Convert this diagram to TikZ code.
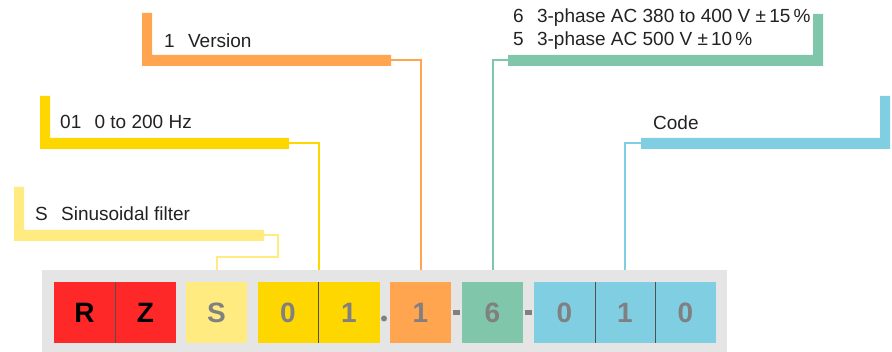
\documentclass[tikz,border=0pt]{standalone}
\usepackage{fontspec}
\setmainfont{Liberation Sans}
\usetikzlibrary{calc}
\definecolor{cred}{HTML}{FF2828}
\definecolor{clyel}{HTML}{FFEB80}
\definecolor{cyel}{HTML}{FFD700}
\definecolor{corg}{HTML}{FFA54F}
\definecolor{cgrn}{HTML}{80C6AA}
\definecolor{cblu}{HTML}{80CEE2}
\definecolor{cpanel}{HTML}{E5E5E5}
\definecolor{cletter}{HTML}{808080}
\definecolor{ctext}{HTML}{222222}
\definecolor{cdiv}{HTML}{505050}
\tikzset{
  cell/.style={minimum width=61pt, minimum height=61pt, inner sep=0pt, font=\fontsize{28}{28}\selectfont\bfseries, text=cletter},
  label/.style={anchor=base west, inner sep=0pt, font=\fontsize{19}{23}\selectfont, text=ctext, align=left},
  divider/.style={draw=cdiv, line width=0.8pt},
  conn/.style={line width=2pt},
  sep/.style={fill=cletter, draw=none}
}
\begin{document}
\begin{tikzpicture}[x=1pt,y=-1pt]
\useasboundingbox (0,0) rectangle (892,352);
% panel
\node[fill=cpanel, minimum width=685pt, minimum height=82pt, anchor=north west, inner sep=0pt] (panel) at (42,270) {};
% cells
\node[cell, fill=cred, text=black] (r) at (84.5,312.5) {R};
\node[cell, fill=cred, text=black] (z) at (145.5,312.5) {Z};
\node[cell, fill=clyel] (s) at (216.5,312.5) {S};
\node[cell, fill=cyel] (f0) at (288,312.5) {0};
\node[cell, fill=cyel] (f1) at (349,312.5) {1};
\node[cell, fill=corg] (v) at (420.5,312.5) {1};
\node[cell, fill=cgrn] (p) at (492.5,312.5) {6};
\node[cell, fill=cblu] (c0) at (564.5,312.5) {0};
\node[cell, fill=cblu] (c1) at (625,312.5) {1};
\node[cell, fill=cblu] (c2) at (685.5,312.5) {0};
% dividers
\draw[divider] (r.north east) -- (r.south east);
\draw[divider] (f0.north east) -- (f0.south east);
\draw[divider] (c0.north east) -- (c0.south east);
\draw[divider] (c1.north east) -- (c1.south east);
% separators
\fill[sep] (384,318.5) circle (3);
\fill[sep] (452.5,310) rectangle (459.5,315);
\fill[sep] (524.5,310) rectangle (531.5,315);
% bars
\fill[clyel] (14,187) -- (24,187) -- (24,230) -- (264,230) -- (264,241) -- (14,241) -- cycle;
\fill[cyel] (40,96) -- (50,96) -- (50,138) -- (289,138) -- (289,149) -- (40,149) -- cycle;
\fill[corg] (142,13) -- (152,13) -- (152,55) -- (391,55) -- (391,66) -- (142,66) -- cycle;
\fill[cgrn] (813,14) -- (823,14) -- (823,66) -- (508,66) -- (508,55) -- (813,55) -- cycle;
\fill[cblu] (880,96) -- (890,96) -- (890,149) -- (641,149) -- (641,138) -- (880,138) -- cycle;
% bar ends
\coordinate (sEnd) at (264,235);
\coordinate (fEnd) at (289,143);
\coordinate (vEnd) at (391,60);
\coordinate (pEnd) at (508,60);
\coordinate (cEnd) at (641,143);
% labels
\node[label] (ls) at (35,221) {S\hspace{0.7em}Sinusoidal filter};
\node[label] (lf) at (60,129) {01\hspace{0.7em}0 to 200 Hz};
\node[label] (lv) at (164,48) {1\hspace{0.7em}Version};
\node[label] (lp1) at (513,23) {6\hspace{0.7em}3-phase AC 380 to 400 V ±\,15\,\%};
\node[label] (lp2) at (513,46) {5\hspace{0.7em}3-phase AC 500 V ±\,10\,\%};
\node[label] (lc) at (653,130) {Code};
% connectors
\draw[conn, draw=clyel] (sEnd) -- (278,235) -- (278,257) -- (s |- 0,257) -- (s |- panel.north);
\draw[conn, draw=cyel] (fEnd) -- (f0.east |- fEnd) -- (f0.east |- panel.north);
\draw[conn, draw=corg] (vEnd) -- (v |- vEnd) -- (v |- panel.north);
\draw[conn, draw=cgrn] (pEnd) -- (p |- pEnd) -- (p |- panel.north);
\draw[conn, draw=cblu] (cEnd) -- (c1 |- cEnd) -- (c1 |- panel.north);
\end{tikzpicture}
\end{document}
